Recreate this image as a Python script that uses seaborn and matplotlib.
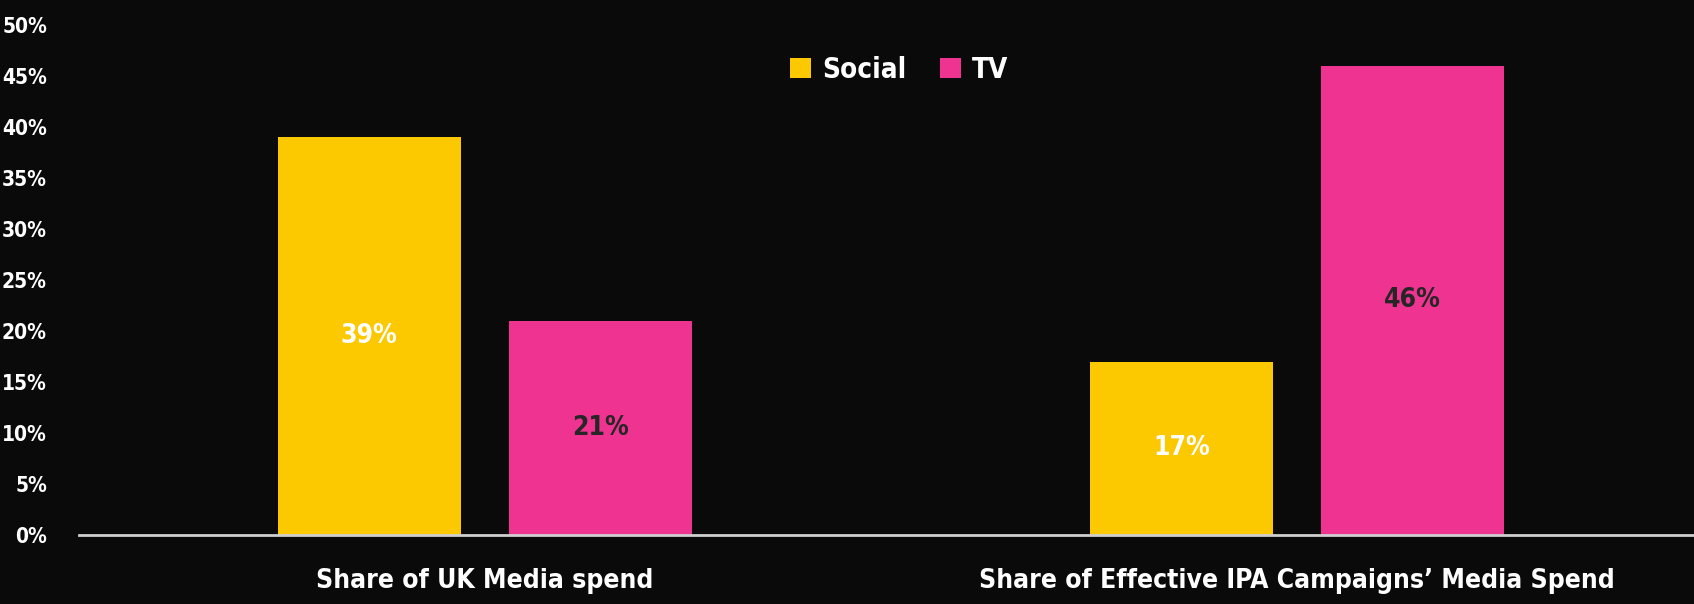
import matplotlib
matplotlib.use("Agg")
import matplotlib.pyplot as plt
import seaborn as sns
import pandas as pd

# Share of media spend, Social vs TV
groups = ["Share of UK Media spend", "Share of Effective IPA Campaigns\u2019 Media Spend"]
channels = ["Social", "TV"]
social_values = [39, 17]
tv_values = [21, 46]
y_ticks = [0, 5, 10, 15, 20, 25, 30, 35, 40, 45, 50]

bg = "#0a0a0a"
colors = {"Social": "#fcc800", "TV": "#ee3391"}
label_colors = {"Social": "white", "TV": "#262626"}

df = pd.DataFrame({
    "group": groups * 2,
    "channel": ["Social"] * len(groups) + ["TV"] * len(groups),
    "value": social_values + tv_values,
})

sns.set_theme(style="dark")
plt.rcParams["font.family"] = ["DejaVu Sans"]
plt.rcParams["font.stretch"] = "condensed"
plt.rcParams["font.weight"] = "bold"

fig = plt.figure(figsize=(16.94, 6.04), dpi=100, facecolor=bg)
ax = fig.add_axes([0.0466, 0.114, 0.9588, 0.8446])
ax.set_facecolor(bg)

sns.barplot(data=df, x="group", y="value", hue="channel", hue_order=channels,
            palette=colors, width=0.57, gap=0.21, saturation=1, linewidth=0,
            ax=ax)

ax.set_ylim(0, 50)
ax.set_xlim(-0.5, 1.5)
ax.set_yticks(y_ticks)
ax.set_yticklabels([f"{t}%" for t in y_ticks], color="white", fontsize=15,
                   fontweight="bold", fontstretch="condensed")
ax.tick_params(axis="y", length=0, pad=23)
ax.tick_params(axis="x", length=0, pad=24, labelcolor="white")
for lbl in ax.get_xticklabels():
    lbl.set_fontweight("bold")
    lbl.set_fontstretch("condensed")
    lbl.set_fontsize(19)
ax.set_xlabel("")
ax.set_ylabel("")
ax.grid(False)
for side in ["left", "right", "top"]:
    ax.spines[side].set_visible(False)
ax.spines["bottom"].set_color("#cfcfcf")
ax.spines["bottom"].set_linewidth(2)

for container, ch in zip(ax.containers, channels):
    ax.bar_label(container, labels=[f"{v:.0f}%" for v in container.datavalues],
                 label_type="center", color=label_colors[ch], fontsize=19,
                 fontweight="bold", fontstretch="condensed")

leg = ax.legend(loc="center", bbox_to_anchor=(0.505, 0.912), ncol=2,
                frameon=False, handlelength=0.75, handleheight=0.75,
                handletextpad=0.4, columnspacing=1.2,
                prop={"size": 20, "weight": "bold", "stretch": "condensed"})
for t in leg.get_texts():
    t.set_color("white")

fig.savefig("out.png", dpi=100, facecolor=bg)
